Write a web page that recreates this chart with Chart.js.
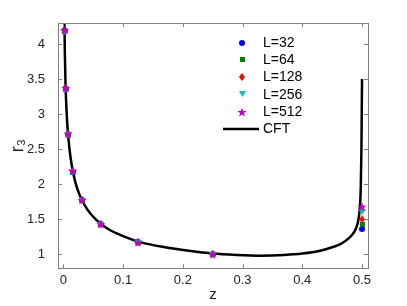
<!DOCTYPE html>
<html>
<head>
<meta charset="utf-8">
<script src="https://cdn.jsdelivr.net/npm/chart.js@4.4.0/dist/chart.umd.min.js"></script>
<style>
  html, body { margin: 0; padding: 0; background: #fff; }
  canvas { display: block; }
</style>
</head>
<body>
<canvas id="grafico" width="407" height="306"></canvas>
<script>
// dados
const xTicks = [0, 0.1, 0.2, 0.3, 0.4, 0.5];
const yTicks = [1, 1.5, 2, 2.5, 3, 3.5, 4];

const zPontos = [0.00195, 0.0039, 0.0078, 0.0156, 0.03125, 0.0625, 0.125, 0.25, 0.5];
const rL32  = [4.19, 3.36, 2.71, 2.18, 1.77, 1.43, 1.17, 1.00, 1.36];
const rL64  = [4.19, 3.36, 2.71, 2.18, 1.77, 1.43, 1.17, 1.00, 1.42];
const rL128 = [4.19, 3.37, 2.72, 2.19, 1.77, 1.43, 1.17, 1.00, 1.50];
const rL256 = [4.17, 3.35, 2.70, 2.17, 1.76, 1.42, 1.16, 0.995, 1.60];
const rL512 = [4.20, 3.37, 2.72, 2.19, 1.776, 1.43, 1.17, 1.00, 1.68];

const zCFT = [0.0018, 0.0025, 0.0035, 0.005, 0.007, 0.01, 0.014, 0.02, 0.028, 0.04, 0.055,
  0.075, 0.1, 0.13, 0.17, 0.21, 0.25, 0.29, 0.33, 0.37, 0.40, 0.43, 0.45, 0.465, 0.478,
  0.487, 0.492, 0.495, 0.497, 0.498, 0.499, 0.4995, 0.5];
const rCFT = [4.30, 3.86, 3.46, 3.10, 2.80, 2.52, 2.27, 2.03, 1.83, 1.64, 1.49,
  1.36, 1.26, 1.17, 1.10, 1.05, 1.01, 0.99, 0.98, 0.99, 1.01, 1.05, 1.10, 1.15, 1.23,
  1.32, 1.42, 1.55, 1.75, 2.0, 2.5, 3.0, 3.5];

// marcadores desenhados num canvas pequeno
function criarMarcador(forma, cor, w, h) {
  const c = document.createElement("canvas");
  c.width = w;
  c.height = h;
  const g = c.getContext("2d");
  g.fillStyle = cor;
  g.beginPath();
  if (forma === "circulo") {
    g.arc(w / 2, h / 2, w / 2, 0, Math.PI * 2);
  } else if (forma === "quadrado") {
    g.rect(0, 0, w, h);
  } else if (forma === "losango") {
    g.moveTo(w / 2, 0);
    g.lineTo(w, h / 2);
    g.lineTo(w / 2, h);
    g.lineTo(0, h / 2);
  } else if (forma === "triangulo") {
    g.moveTo(0, 0);
    g.lineTo(w, 0);
    g.lineTo(w / 2, h);
  } else if (forma === "estrela") {
    const R = w / 2, r = R * 0.4;
    for (let i = 0; i < 10; i++) {
      const a = -Math.PI / 2 + i * Math.PI / 5;
      const rr = i % 2 === 0 ? R : r;
      const px = w / 2 + rr * Math.cos(a);
      const py = h / 2 + 0.5 + rr * Math.sin(a);
      if (i === 0) g.moveTo(px, py); else g.lineTo(px, py);
    }
  }
  g.closePath();
  g.fill();
  return c;
}

const series = [
  { label: "L=32",  dados: rL32,  estilo: criarMarcador("circulo", "#0000ff", 6, 6) },
  { label: "L=64",  dados: rL64,  estilo: criarMarcador("quadrado", "#008000", 5, 5) },
  { label: "L=128", dados: rL128, estilo: criarMarcador("losango", "#ff0000", 6, 8) },
  { label: "L=256", dados: rL256, estilo: criarMarcador("triangulo", "#00bfbf", 7, 6) },
  { label: "L=512", dados: rL512, estilo: criarMarcador("estrela", "#bf00bf", 10, 10) }
];

const datasets = series.map((s, i) => ({
  label: s.label,
  data: zPontos.map((z, k) => ({ x: z, y: s.dados[k] })),
  pointStyle: s.estilo,
  showLine: false,
  order: 4 - i
}));

datasets.push({
  label: "CFT",
  data: zCFT.map((z, k) => ({ x: z, y: rCFT[k] })),
  showLine: true,
  borderColor: "#000",
  borderWidth: 2.5,
  pointRadius: 0,
  cubicInterpolationMode: "monotone",
  order: 10
});

// caixa, ticks para dentro e legenda
const caixaPlugin = {
  id: "caixa",
  afterDraw(chart) {
    const { ctx, chartArea: a, scales } = chart;
    ctx.save();
    ctx.strokeStyle = "#808080";
    ctx.lineWidth = 1;
    ctx.strokeRect(Math.round(a.left) + 0.5, Math.round(a.top) + 0.5,
      Math.round(a.right - a.left), Math.round(a.bottom - a.top));
    ctx.beginPath();
    xTicks.forEach(v => {
      const px = Math.round(scales.x.getPixelForValue(v)) + 0.5;
      ctx.moveTo(px, a.bottom); ctx.lineTo(px, a.bottom - 4);
      ctx.moveTo(px, a.top); ctx.lineTo(px, a.top + 4);
    });
    yTicks.forEach(v => {
      const py = Math.round(scales.y.getPixelForValue(v)) + 0.5;
      ctx.moveTo(a.left, py); ctx.lineTo(a.left + 4, py);
      ctx.moveTo(a.right, py); ctx.lineTo(a.right - 4, py);
    });
    ctx.stroke();

    // legenda
    const xMarca = 242, xTexto = 263, y0 = 42.5, passo = 17.3;
    ctx.font = "14px 'Liberation Sans', Arial, sans-serif";
    ctx.fillStyle = "#000";
    ctx.textBaseline = "middle";
    series.forEach((s, i) => {
      const y = y0 + i * passo;
      ctx.drawImage(s.estilo, Math.round(xMarca - s.estilo.width / 2), Math.round(y - s.estilo.height / 2));
      ctx.fillText(s.label, xTexto, y + 0.5);
    });
    const yc = y0 + 5 * passo;
    ctx.strokeStyle = "#000";
    ctx.lineWidth = 2.5;
    ctx.beginPath();
    ctx.moveTo(223, yc);
    ctx.lineTo(259, yc);
    ctx.stroke();
    ctx.fillText("CFT", xTexto, yc + 0.5);
    ctx.restore();
  }
};

const fonteTicks = { family: "'Liberation Sans', Arial, sans-serif", size: 13 };

new Chart(document.getElementById("grafico"), {
  type: "scatter",
  data: { datasets },
  options: {
    responsive: false,
    animation: false,
    devicePixelRatio: 1,
    layout: { padding: { left: 0, top: 23, right: 39, bottom: 0 } },
    plugins: {
      legend: { display: false },
      tooltip: { enabled: false }
    },
    scales: {
      x: {
        type: "linear",
        min: -0.009,
        max: 0.51,
        grid: { display: false },
        border: { display: false },
        afterBuildTicks: s => { s.ticks = xTicks.map(v => ({ value: v })); },
        afterFit: s => { s.height = 37.7; },
        ticks: {
          padding: -4,
          color: "#222",
          font: fonteTicks,
          callback: v => String(v)
        },
        title: {
          display: true,
          text: "z",
          color: "#222",
          font: { family: "'Liberation Sans', Arial, sans-serif", size: 15 },
          padding: { top: 0, bottom: 2 }
        }
      },
      y: {
        type: "linear",
        min: 0.8,
        max: 4.3,
        grid: { display: false },
        border: { display: false },
        afterBuildTicks: s => { s.ticks = yTicks.map(v => ({ value: v })); },
        afterFit: s => { s.width = 58; },
        ticks: {
          padding: 5,
          color: "#222",
          font: fonteTicks,
          callback: v => String(v)
        },
        title: {
          display: true,
          text: "r₃",
          color: "#222",
          font: { family: "'Liberation Sans', Arial, sans-serif", size: 18 },
          padding: { top: 7, bottom: 0 }
        }
      }
    }
  },
  plugins: [caixaPlugin]
});
</script>
</body>
</html>
